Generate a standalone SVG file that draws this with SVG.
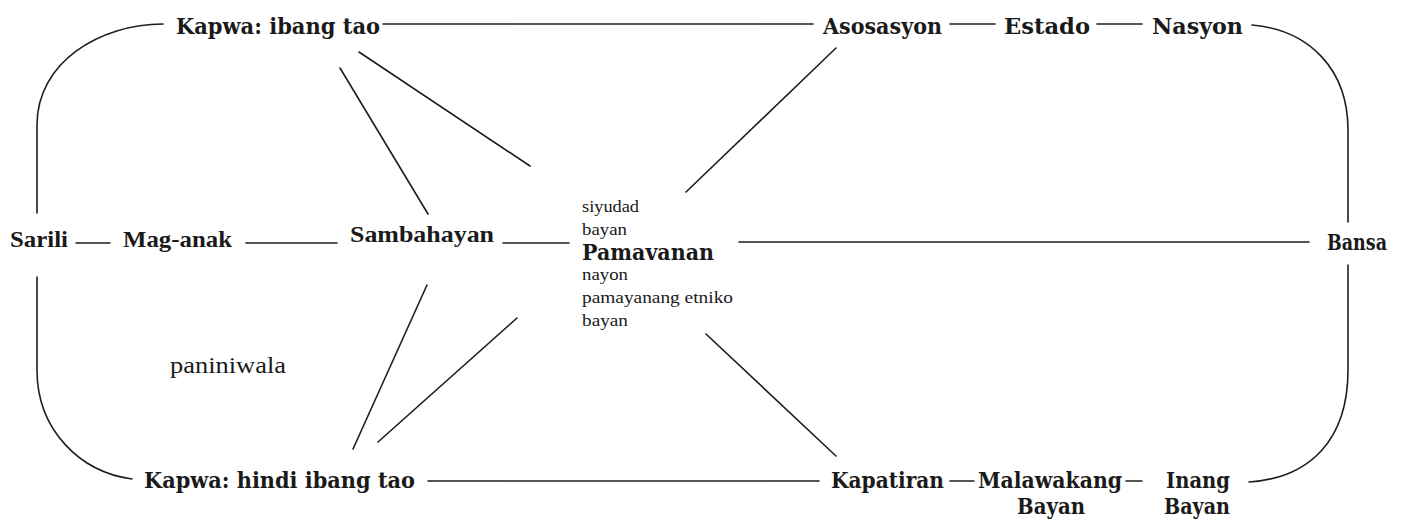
<svg xmlns="http://www.w3.org/2000/svg" width="1401" height="521" viewBox="0 0 1401 521">
<style>
.c{fill:none;stroke:#1e1e1e;stroke-width:1.6;stroke-linecap:round}
.h{font-family:"DejaVu Serif","Liberation Serif",serif;font-weight:bold;font-size:22px;fill:#1a1a1a}
.g{font-family:"Liberation Serif",serif;font-weight:bold;font-size:23px;fill:#1a1a1a}
.s{font-family:"Liberation Serif",serif;font-size:17px;fill:#1a1a1a}
.p{font-family:"Liberation Serif",serif;font-size:24px;fill:#1a1a1a}
</style>
<rect width="1401" height="521" fill="#ffffff"/>
<g id="connectors" class="c">
<path d="M163,24 C100,24 37,62 37,125 L37,213"/>
<path d="M37,277 L37,370 C37,430 80,472 132,479"/>
<path d="M1252,25 C1310,30 1348,70 1348,130 L1348,222"/>
<path d="M1348,265 L1348,370 C1348,440 1310,478 1249,482"/>
<line x1="383" y1="24" x2="813" y2="24"/>
<line x1="950" y1="24" x2="995" y2="24"/>
<line x1="1097" y1="24" x2="1142" y2="24"/>
<line x1="76" y1="243" x2="110" y2="243"/>
<line x1="246" y1="243" x2="337" y2="243"/>
<line x1="503" y1="243" x2="569" y2="243"/>
<line x1="739" y1="242" x2="1309" y2="242"/>
<line x1="428" y1="481" x2="819" y2="481"/>
<line x1="950" y1="481" x2="974" y2="481"/>
<line x1="1126" y1="481" x2="1142" y2="481"/>
<line x1="340" y1="68" x2="428" y2="214"/>
<line x1="359" y1="52" x2="530" y2="166"/>
<line x1="836" y1="48" x2="686" y2="192"/>
<line x1="427" y1="285" x2="353" y2="449"/>
<line x1="517" y1="318" x2="378" y2="442"/>
<line x1="706" y1="334" x2="836" y2="456"/>
</g>
<g id="kapwa-ibang-tao"><text class="h" x="176" y="34" textLength="204" lengthAdjust="spacingAndGlyphs">Kapwa: ibang tao</text></g>
<g id="asosasyon"><text class="h" x="823" y="34" textLength="119" lengthAdjust="spacingAndGlyphs">Asosasyon</text></g>
<g id="estado"><text class="h" x="1004" y="34" textLength="86" lengthAdjust="spacingAndGlyphs">Estado</text></g>
<g id="nasyon"><text class="h" x="1152" y="34" textLength="91" lengthAdjust="spacingAndGlyphs">Nasyon</text></g>
<g id="sarili"><text class="g" x="10" y="247" textLength="58" lengthAdjust="spacingAndGlyphs">Sarili</text></g>
<g id="mag-anak"><text class="g" x="123" y="247" textLength="109" lengthAdjust="spacingAndGlyphs">Mag-anak</text></g>
<g id="sambahayan"><text class="g" x="350" y="242" textLength="144" lengthAdjust="spacingAndGlyphs">Sambahayan</text></g>
<g id="pamavanan">
<text class="s" x="582" y="212" textLength="57" lengthAdjust="spacingAndGlyphs">siyudad</text>
<text class="s" x="582" y="235" textLength="45" lengthAdjust="spacingAndGlyphs">bayan</text>
<text class="h" x="582" y="260" font-size="24" textLength="132" lengthAdjust="spacingAndGlyphs">Pamavanan</text>
<text class="s" x="582" y="280" textLength="46" lengthAdjust="spacingAndGlyphs">nayon</text>
<text class="s" x="582" y="303" textLength="151" lengthAdjust="spacingAndGlyphs">pamayanang etniko</text>
<text class="s" x="582" y="326" textLength="46" lengthAdjust="spacingAndGlyphs">bayan</text>
</g>
<g id="bansa"><text class="h" x="1327" y="250" font-size="19" textLength="60" lengthAdjust="spacingAndGlyphs">Bansa</text></g>
<g id="paniniwala"><text class="p" x="170" y="373" textLength="116" lengthAdjust="spacingAndGlyphs">paniniwala</text></g>
<g id="kapwa-hindi-ibang-tao"><text class="h" x="144" y="488" textLength="271" lengthAdjust="spacingAndGlyphs">Kapwa: hindi ibang tao</text></g>
<g id="kapatiran"><text class="h" x="831" y="488" textLength="113" lengthAdjust="spacingAndGlyphs">Kapatiran</text></g>
<g id="malawakang-bayan"><text class="h" x="978" y="488" textLength="144" lengthAdjust="spacingAndGlyphs">Malawakang</text><text class="h" x="1017" y="514" textLength="68" lengthAdjust="spacingAndGlyphs">Bayan</text></g>
<g id="inang-bayan"><text class="h" x="1166" y="488" textLength="64" lengthAdjust="spacingAndGlyphs">Inang</text><text class="h" x="1164" y="514" textLength="66" lengthAdjust="spacingAndGlyphs">Bayan</text></g>
</svg>
